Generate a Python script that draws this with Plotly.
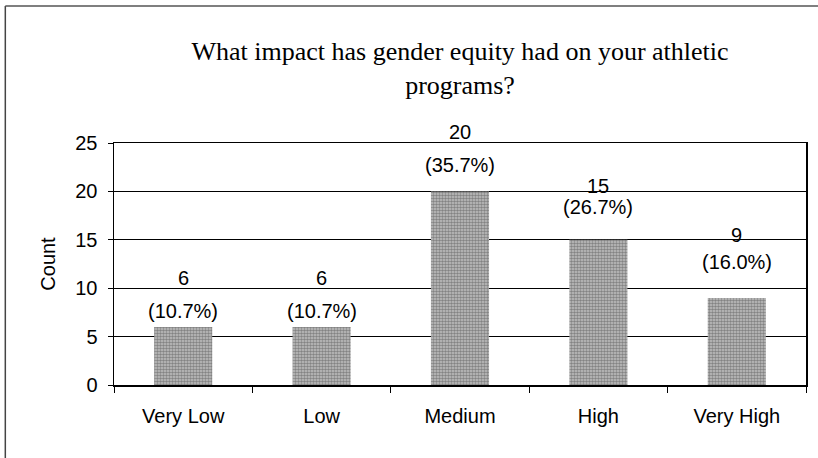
import plotly.graph_objects as go

# ---- data ----
categories = ["Very Low", "Low", "Medium", "High", "Very High"]
counts = [6, 6, 20, 15, 9]
percent_labels = ["(10.7%)", "(10.7%)", "(35.7%)", "(26.7%)", "(16.0%)"]
y_ticks = [0, 5, 10, 15, 20, 25]

title_text = "What impact has gender equity had on your athletic<br>programs?"

# ---- layout constants (pixels) ----
W, H = 818, 458
L, R, T, B = 114, 10, 143, 73
plot_w = W - L - R
plot_h = H - T - B

# label offsets above each bar top (px) - manual placement as in the original
count_shift = [49, 49, 59, 54, 63]
pct_shift = [16, 16, 26, 33, 36]

fig = go.Figure()
fig.add_trace(go.Bar(
    x=categories,
    y=counts,
    width=0.42,
    marker=dict(
        color="#b4b4b4",
        line=dict(width=0),
        pattern=dict(shape=".", fgcolor="#444444", bgcolor="#c2c2c2", size=3, solidity=0.55),
    ),
    hoverinfo="skip",
))

label_font = dict(family="Liberation Sans, Arial, sans-serif", size=20, color="black")
annotations = []
for c, v, p, cs, ps in zip(categories, counts, percent_labels, count_shift, pct_shift):
    annotations.append(dict(x=c, y=v, xref="x", yref="y", text=str(v), showarrow=False,
                            yshift=cs, yanchor="middle", font=label_font))
    annotations.append(dict(x=c, y=v, xref="x", yref="y", text=p, showarrow=False,
                            yshift=ps, yanchor="middle", font=label_font))

# outer frame (left and top edges visible)
fx0 = (5 - L) / plot_w
fx1 = (W + 5 - L) / plot_w
fy_top = (H - B - 6) / plot_h
fy_bot = (H - B - (H + 5)) / plot_h
shapes = [
    dict(type="line", xref="paper", yref="paper", x0=fx0, x1=fx0, y0=fy_bot, y1=fy_top,
         line=dict(color="#444", width=1.5)),
    dict(type="line", xref="paper", yref="paper", x0=fx0, x1=fx1, y0=fy_top, y1=fy_top,
         line=dict(color="#555", width=1.5)),
]

fig.update_layout(
    width=W, height=H,
    margin=dict(l=L, r=R, t=T, b=B, pad=0),
    paper_bgcolor="white",
    plot_bgcolor="white",
    showlegend=False,
    bargap=0.58,
    title=dict(
        text=title_text,
        font=dict(family="Liberation Serif, Times New Roman, serif", size=26, color="black"),
        x=0.5, xref="paper", xanchor="center",
        y=1 - 60 / H, yref="container", yanchor="top",
    ),
    annotations=annotations,
    shapes=shapes,
    xaxis=dict(
        showline=True, linecolor="black", linewidth=1.5, mirror=True,
        ticks="outside", tickson="boundaries", ticklen=6, tickcolor="black",
        tickfont=dict(family="Liberation Sans, Arial, sans-serif", size=20, color="black"),
        showgrid=False,
        ticklabelstandoff=12,
    ),
    yaxis=dict(
        range=[0, 25],
        tickvals=y_ticks,
        showline=True, linecolor="black", linewidth=1.5, mirror=True,
        ticks="outside", ticklen=5, tickcolor="black",
        tickfont=dict(family="Liberation Sans, Arial, sans-serif", size=20, color="black"),
        showgrid=True, gridcolor="black", gridwidth=1,
        zeroline=False,
        title=dict(text="Count", standoff=14,
                   font=dict(family="Liberation Sans, Arial, sans-serif", size=20, color="black")),
        ticklabelstandoff=6,
    ),
)

fig.write_html(
    "out.html",
    config={"displayModeBar": False, "staticPlot": True},
    post_script="document.body.style.margin='0';document.body.style.overflow='hidden';",
)
